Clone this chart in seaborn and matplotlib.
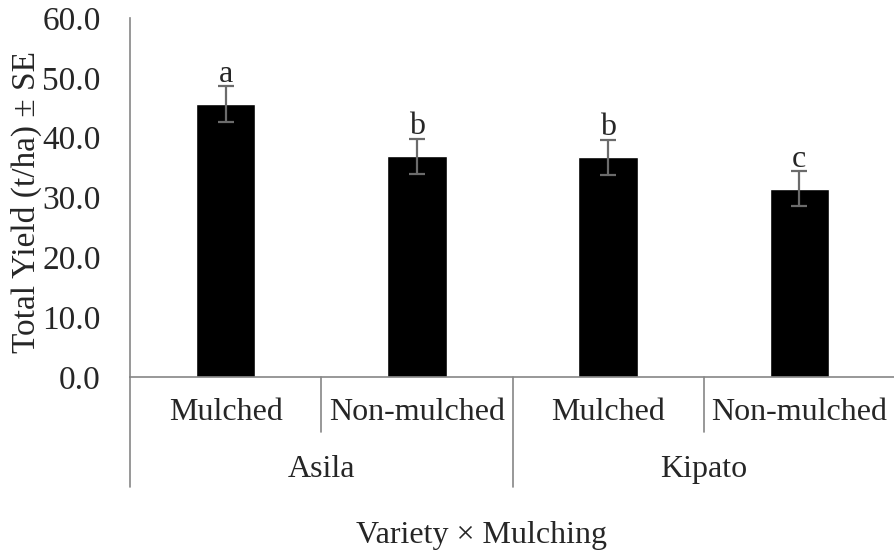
import pandas as pd
import seaborn as sns
import matplotlib.pyplot as plt
import matplotlib.transforms as mtransforms

sns.set_style("white")
plt.rcParams['font.family'] = ['Liberation Serif', 'DejaVu Serif']

# data
varieties = ["Asila", "Asila", "Kipato", "Kipato"]
mulching = ["Mulched", "Non-mulched", "Mulched", "Non-mulched"]
yield_mean = [45.6, 36.9, 36.7, 31.5]
yield_se = [3.0, 2.9, 2.9, 2.9]
letters = ["a", "b", "b", "c"]

df = pd.DataFrame({"variety": varieties, "mulching": mulching,
                   "yield": yield_mean, "se": yield_se, "letter": letters})
df["key"] = df["variety"] + " " + df["mulching"]

fig = plt.figure(figsize=(8.95, 5.54), dpi=100)
ax = fig.add_axes([130 / 895, 1 - 377 / 554, 765 / 895, 359 / 554])

sns.barplot(data=df, x="key", y="yield", order=list(df["key"]), color="black",
            width=0.31, errorbar=None, saturation=1, ax=ax)
ax.errorbar(range(len(df)), df["yield"], yerr=df["se"], fmt="none",
            ecolor="#6b6b6b", elinewidth=1.6, capsize=6, capthick=1.6)

# significance letters
for i, row in df.iterrows():
    ax.text(i, row["yield"] + row["se"] - 0.4, row["letter"], ha="center",
            va="bottom", fontsize=23)

ax.set_xlim(-0.5, 3.5)
ax.set_ylim(0, 60)
ax.set_yticks(range(0, 61, 10))
ax.set_yticklabels([f"{v:.1f}" for v in range(0, 61, 10)], fontsize=24)
ax.set_xticks([])
ax.set_xlabel("")
ax.set_ylabel("")
ax.tick_params(axis="y", direction="out", length=7, color="#868686", width=1.2, pad=14)

for s in ["top", "right"]:
    ax.spines[s].set_visible(False)
for s in ["left", "bottom"]:
    ax.spines[s].set_color("#868686")
    ax.spines[s].set_linewidth(1.2)

fig.text(26 / 895, 1 - 202 / 554, "Total Yield (t/ha) ± SE", rotation=90,
         ha="center", va="center", fontsize=24)

# two-level category axis
trans = mtransforms.blended_transform_factory(ax.transData, ax.transAxes)
for x in [0.5, 2.5]:
    ax.plot([x, x], [0, -0.153], color="#868686", lw=1.2, transform=trans, clip_on=False)
for x in [-0.5, 1.5]:
    ax.plot([x, x], [0, -0.306], color="#868686", lw=1.2, transform=trans, clip_on=False)

for i, row in df.iterrows():
    ax.text(i, -0.0975, row["mulching"], ha="center", va="center",
            fontsize=23, transform=trans)
for i, v in enumerate(["Asila", "Kipato"]):
    ax.text(2 * i + 0.5, -0.259, v, ha="center", va="center",
            fontsize=23, transform=trans)

fig.text(482 / 895, 1 - 535 / 554, "Variety × Mulching", ha="center",
         va="center", fontsize=23)

fig.savefig("out.png", dpi=100)
